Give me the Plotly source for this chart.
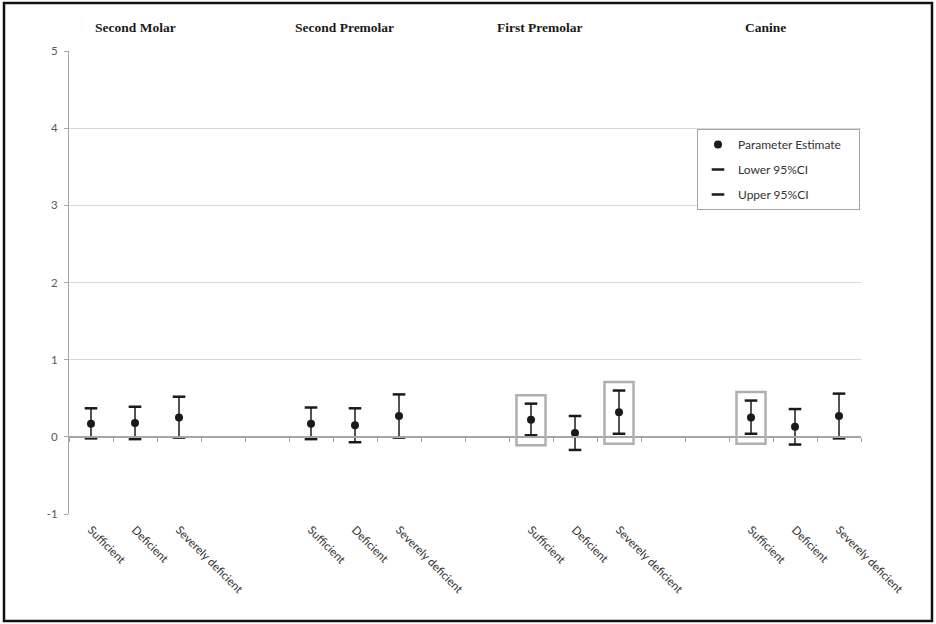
import plotly.graph_objects as go

# ---------------- data ----------------
groups = ["Second Molar", "Second Premolar", "First Premolar", "Canine"]
categories = ["Sufficient", "Deficient", "Severely deficient", "", "",
              "Sufficient", "Deficient", "Severely deficient", "", "",
              "Sufficient", "Deficient", "Severely deficient", "", "",
              "Sufficient", "Deficient", "Severely deficient"]
estimate = [0.17, 0.18, 0.25, None, None,
            0.17, 0.15, 0.27, None, None,
            0.22, 0.05, 0.32, None, None,
            0.25, 0.13, 0.27]
lower_ci = [-0.02, -0.03, -0.01, None, None,
            -0.03, -0.07, -0.01, None, None,
            0.02, -0.17, 0.04, None, None,
            0.04, -0.10, -0.02]
upper_ci = [0.37, 0.39, 0.52, None, None,
            0.38, 0.37, 0.55, None, None,
            0.43, 0.27, 0.60, None, None,
            0.47, 0.36, 0.56]
highlighted = [10, 12, 15]
y_ticks = [-1, 0, 1, 2, 3, 4, 5]
y_tick_labels = ["-1", "0", "1", "2", "3", "4", "5"]

# ---------------- figure ----------------
n = len(categories)
xs = list(range(n))
valid = [i for i in xs if estimate[i] is not None]

# hi-low lines
hx, hy = [], []
for i in valid:
    hx += [i, i, None]
    hy += [lower_ci[i], upper_ci[i], None]

pad = "&nbsp;" * 4
fig = go.Figure()
fig.add_trace(go.Scatter(x=hx, y=hy, mode="lines", xaxis="x2", yaxis="y",
                         line=dict(color="#1a1a1a", width=1.5),
                         showlegend=False, hoverinfo="skip"))
fig.add_trace(go.Scatter(x=valid, y=[estimate[i] for i in valid], mode="markers",
                         name="Parameter Estimate" + pad, legendgroup="a",
                         marker=dict(symbol="circle", size=8, color="#1a1a1a")))
fig.add_trace(go.Scatter(x=valid, y=[lower_ci[i] for i in valid], mode="markers",
                         name="Lower 95%CI", legendgroup="b",
                         marker=dict(symbol="line-ew", size=9,
                                     line=dict(width=2.5, color="#1a1a1a"))))
fig.add_trace(go.Scatter(x=valid, y=[upper_ci[i] for i in valid], mode="markers",
                         name="Upper 95%CI", legendgroup="c",
                         marker=dict(symbol="line-ew", size=9,
                                     line=dict(width=2.5, color="#1a1a1a"))))

# highlight boxes around selected error bars
for i in highlighted:
    fig.add_shape(type="rect", xref="x", yref="y",
                  x0=i - 0.33, x1=i + 0.33,
                  y0=lower_ci[i] - 0.13, y1=upper_ci[i] + 0.11,
                  line=dict(color="#b0b0b0", width=2.5), fillcolor="rgba(0,0,0,0)")

# group titles
title_x = [1.02, 5.77, 10.2, 15.32]
for g, tx in zip(groups, title_x):
    fig.add_annotation(x=tx, y=1.05, xref="x", yref="paper", text="<b>%s</b>" % g,
                       showarrow=False, yanchor="middle", xanchor="center",
                       font=dict(family="Liberation Serif", size=13.5, color="#1a1a1a"))

L, R, T, B = 69, 75, 51, 110
W, H = 936, 624
pw, ph = W - L - R, H - T - B
# outer black border
fig.add_shape(type="rect", xref="paper", yref="paper",
              x0=(4 - L) / pw, x1=(932 - L) / pw,
              y0=(H - B - 621) / ph, y1=(H - B - 3) / ph,
              line=dict(color="#111111", width=2.5))

rng = [-0.5, n - 0.5]
tick_font = dict(family="Lato", size=11.5, color="#595959")
fig.update_layout(
    width=W, height=H, margin=dict(l=L, r=R, t=T, b=B),
    plot_bgcolor="white", paper_bgcolor="white",
    xaxis=dict(range=rng, tickmode="array", tickvals=valid,
               ticktext=[categories[i] for i in valid], tickangle=45,
               ticks="", showgrid=False, zeroline=False, showline=False,
               ticklabelstandoff=6,
               tickfont=dict(family="Lato", size=11.5, color="#333333")),
    xaxis2=dict(range=rng, overlaying="x", anchor="free", position=1 / 6,
                side="bottom", showline=True, linecolor="#a6a6a6", linewidth=1.5,
                ticks="outside", ticklen=4, tickcolor="#a6a6a6",
                tickmode="array", tickvals=[i - 0.5 for i in range(n + 1)],
                showticklabels=False, showgrid=False, zeroline=False),
    yaxis=dict(range=[-1, 5], tickmode="array", tickvals=y_ticks,
               ticktext=y_tick_labels,
               showgrid=True, gridcolor="#d9d9d9", gridwidth=1,
               zeroline=False, showline=True, linecolor="#a6a6a6", linewidth=1,
               ticks="outside", ticklen=4, tickcolor="#a6a6a6",
               ticklabelstandoff=4, tickfont=tick_font),
    legend=dict(x=(697 - L) / pw, y=(H - B - 129) / ph, xanchor="left", yanchor="top",
                bgcolor="white", bordercolor="#a6a6a6", borderwidth=1,
                font=dict(family="Lato", size=12, color="#333333"),
                tracegroupgap=6, traceorder="grouped"),
    showlegend=True,
)

fig.write_html("out.html", post_script="document.body.style.margin='0';",
               config={"displayModeBar": False})
